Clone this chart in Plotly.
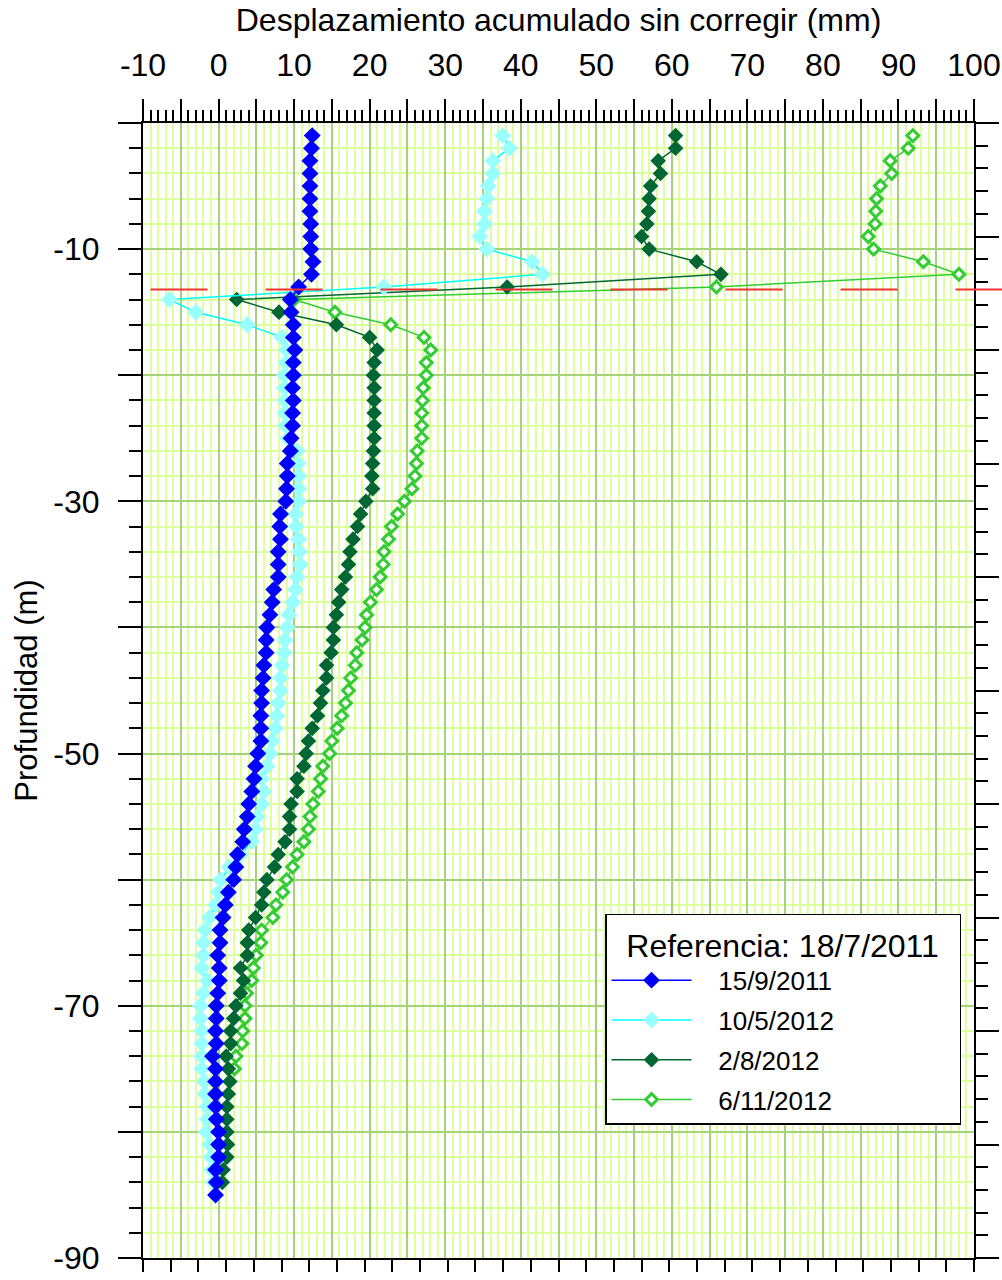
import plotly.graph_objects as go

# ---------------- data ----------------
DEPTH = [-1, -2, -3, -4, -5, -6, -7, -8, -9, -10,
         -11, -12, -13, -14, -15, -16, -17, -18, -19, -20,
         -21, -22, -23, -24, -25, -26, -27, -28, -29, -30,
         -31, -32, -33, -34, -35, -36, -37, -38, -39, -40,
         -41, -42, -43, -44, -45, -46, -47, -48, -49, -50,
         -51, -52, -53, -54, -55, -56, -57, -58, -59, -60,
         -61, -62, -63, -64, -65, -66, -67, -68, -69, -70,
         -71, -72, -73, -74, -75, -76, -77, -78, -79, -80,
         -81, -82, -83, -84, -85]

S_15_9_2011 = [12.4, 12.3, 12.1, 12.1, 12.1, 12.1, 12.1, 12.2, 12.2, 12.2,
               12.5, 12.3, 10.6, 9.5, 9.6, 9.9, 9.9, 10.1, 9.9, 9.9,
               9.8, 9.9, 9.8, 9.8, 9.6, 9.5, 9.1, 9.1, 9.0, 8.9,
               8.2, 8.1, 8.2, 7.9, 7.9, 7.9, 7.3, 7.1, 6.8, 6.4,
               6.3, 6.3, 6.0, 5.9, 5.7, 5.7, 5.6, 5.6, 5.6, 5.2,
               4.9, 4.7, 4.4, 4.0, 3.8, 3.4, 3.2, 2.5, 2.3, 2.0,
               1.3, 0.9, 0.6, 0.2, 0.2, -0.1, 0.1, 0.1, -0.1, -0.3,
               -0.3, -0.4, -0.3, -0.8, -0.4, -0.4, -0.4, -0.4, -0.3, 0.0,
               0.0, 0.0, -0.4, -0.3, -0.4]

S_10_5_2012 = [37.6, 38.5, 36.3, 36.3, 35.7, 35.5, 35.2, 35.2, 34.6, 35.5,
               41.5, 42.9, 21.9, -6.5, -3.0, 3.8, 8.4, 9.0, 8.9, 8.7,
               8.7, 8.8, 8.8, 8.9, 9.2, 10.4, 10.5, 10.6, 10.6, 10.6,
               10.2, 10.3, 10.6, 10.7, 10.8, 10.4, 10.2, 9.8, 9.3, 9.1,
               8.8, 8.7, 8.4, 8.2, 8.2, 7.9, 7.7, 7.5, 7.1, 6.8,
               6.4, 5.7, 6.0, 5.7, 5.1, 4.9, 4.4, 2.9, 1.4, 0.3,
               0.0, -0.4, -1.2, -1.8, -2.0, -2.0, -2.2, -1.5, -2.0, -2.4,
               -2.4, -2.2, -2.2, -2.2, -2.2, -1.9, -1.8, -1.5, -1.5, -1.6,
               -1.2, -1.0, -0.9, -0.7]

S_2_8_2012 = [60.5, 60.5, 58.2, 58.5, 57.2, 57.0, 56.9, 56.7, 56.0, 57.0,
              63.3, 66.5, 38.2, 2.4, 8.0, 15.6, 20.0, 21.0, 20.6, 20.5,
              20.6, 20.6, 20.6, 20.6, 20.6, 20.5, 20.4, 20.3, 20.4, 19.5,
              18.8, 18.4, 17.8, 17.4, 17.2, 16.8, 16.3, 15.9, 15.6, 15.2,
              15.2, 14.9, 14.3, 14.3, 13.8, 13.5, 13.1, 12.4, 11.9, 11.6,
              11.3, 10.4, 10.4, 9.6, 9.4, 9.4, 8.8, 7.9, 7.4, 6.4,
              6.0, 5.7, 4.9, 4.0, 3.8, 3.8, 2.9, 3.3, 2.9, 2.3,
              2.0, 1.6, 1.6, 1.0, 1.3, 1.5, 1.3, 1.1, 1.1, 1.1,
              1.2, 1.1, 0.6, 0.5]

S_6_11_2012 = [91.9, 91.3, 88.9, 89.1, 87.6, 87.1, 87.0, 86.9, 86.0, 86.7,
               93.3, 98.0, 65.9, 10.0, 15.4, 22.8, 27.2, 28.1, 27.5, 27.5,
               27.1, 27.0, 26.9, 26.9, 26.9, 26.3, 26.2, 26.0, 25.6, 24.6,
               23.7, 22.9, 22.5, 21.9, 21.8, 21.4, 20.9, 20.1, 19.6, 19.4,
               19.0, 18.3, 18.1, 17.5, 17.2, 16.8, 16.3, 15.7, 15.0, 14.7,
               13.8, 13.5, 13.2, 12.5, 12.1, 11.9, 11.3, 10.4, 9.8, 9.0,
               8.5, 7.6, 7.2, 5.7, 5.6, 5.0, 4.6, 4.4, 3.7, 3.5,
               3.5, 3.2, 3.1, 2.3, 2.1]

SERIES_NAMES = ["15/9/2011", "10/5/2012", "2/8/2012", "6/11/2012"]
LEGEND_TITLE = "Referencia: 18/7/2011"
X_TITLE = "Desplazamiento acumulado sin corregir (mm)"
Y_TITLE = "Profundidad (m)"

X_RANGE = [-10, 100]
Y_RANGE = [-90, 0]
X_TICKVALS = [-10, -5, 0, 5, 10, 15, 20, 25, 30, 35, 40, 45, 50, 55, 60, 65, 70, 75, 80, 85, 90, 95, 100]
X_TICKTEXT = ["-10", "", "0", "", "10", "", "20", "", "30", "", "40", "", "50", "", "60", "", "70", "", "80", "", "90", "", "100"]
Y_TICKVALS = [-90, -80, -70, -60, -50, -40, -30, -20, -10, 0]
Y_TICKTEXT = ["-90", "", "-70", "", "-50", "", "-30", "", "-10", ""]
RED_DEPTH = -13.2
RED_START = -9.0

# ---------------- styling ----------------
FONT = "Arial, Liberation Sans, sans-serif"
GRID_MAJOR = "#a6d27a"
GRID_MINOR = "#ddff9c"
NBSP = "\u00a0"

fig = go.Figure()

styles = {
    "6/11/2012": dict(line=dict(color="#33cc33", width=1.5),
                      marker=dict(symbol="diamond", size=9, color="white",
                                  line=dict(color="#33cc33", width=3))),
    "2/8/2012": dict(line=dict(color="#006633", width=1.5),
                     marker=dict(symbol="diamond", size=12, color="#006633",
                                 line=dict(width=0))),
    "10/5/2012": dict(line=dict(color="#00ffff", width=1.5),
                      marker=dict(symbol="diamond", size=13, color="#99ffff",
                                  line=dict(width=0))),
    "15/9/2011": dict(line=dict(color="#0000ff", width=1.5),
                      marker=dict(symbol="diamond", size=13, color="#0000ff",
                                  line=dict(width=0))),
}
data_map = {
    "15/9/2011": S_15_9_2011,
    "10/5/2012": S_10_5_2012,
    "2/8/2012": S_2_8_2012,
    "6/11/2012": S_6_11_2012,
}

# draw light green first so blue ends on top; legend ordered by rank
for name in reversed(SERIES_NAMES):
    vals = data_map[name]
    fig.add_trace(go.Scatter(
        x=vals, y=DEPTH[:len(vals)], mode="lines+markers",
        name=NBSP * 3 + name,
        legendgroup=name, legendrank=SERIES_NAMES.index(name) + 1,
        **styles[name]))

# secondary (unlabelled) axes on bottom and right
fig.add_trace(go.Scatter(x=[], y=[], xaxis="x2", yaxis="y2",
                         showlegend=False, hoverinfo="skip"))

ax_common = dict(showline=True, linecolor="black", linewidth=2, zeroline=False,
                 ticks="outside", tickcolor="black", tickwidth=1.8,
                 automargin=False)

fig.update_layout(
    width=1002, height=1280,
    margin=dict(l=143, r=28, t=123, b=22),
    paper_bgcolor="white", plot_bgcolor="white",
    font=dict(family=FONT, color="black", size=32),
    showlegend=True,
    xaxis=dict(
        side="top", range=X_RANGE, tickmode="array",
        tickvals=X_TICKVALS, ticktext=X_TICKTEXT, ticklen=22,
        tickfont=dict(size=32), ticklabelstandoff=10,
        showgrid=True, gridcolor=GRID_MAJOR, gridwidth=1.6,
        minor=dict(dtick=1, tick0=0, ticks="outside", ticklen=11,
                   tickcolor="black", tickwidth=1.5,
                   showgrid=True, gridcolor=GRID_MINOR, gridwidth=1.6),
        title=dict(text=X_TITLE, font=dict(size=32), standoff=6),
        **ax_common),
    yaxis=dict(
        range=Y_RANGE, tickmode="array",
        tickvals=Y_TICKVALS, ticktext=Y_TICKTEXT, ticklen=23,
        tickfont=dict(size=32), ticklabelstandoff=12,
        showgrid=True, gridcolor=GRID_MAJOR, gridwidth=1.6,
        minor=dict(dtick=2, tick0=0, ticks="outside", ticklen=12,
                   tickcolor="black", tickwidth=1.5,
                   showgrid=True, gridcolor=GRID_MINOR, gridwidth=1.6),
        title=dict(text=Y_TITLE, font=dict(size=31), standoff=6),
        **ax_common),
    xaxis2=dict(overlaying="x", side="bottom", anchor="y", range=[0, 30],
                tickmode="linear", tick0=0, dtick=1, ticklen=12,
                showticklabels=False, showgrid=False, **ax_common),
    yaxis2=dict(overlaying="y", side="right", anchor="x", range=[50, 0],
                tickmode="linear", tick0=0, dtick=5, ticklen=23,
                showticklabels=False, showgrid=False,
                minor=dict(dtick=1, tick0=0, ticks="outside", ticklen=12,
                           tickcolor="black", tickwidth=1.5, showgrid=False),
                **ax_common),
    legend=dict(
        x=0.556, y=0.3034, xanchor="left", yanchor="top",
        bgcolor="white", bordercolor="black", borderwidth=1.5,
        font=dict(size=26), traceorder="grouped",
        tracegroupgap=3, itemwidth=80,
        title=dict(text=NBSP * 2 + LEGEND_TITLE + NBSP * 2,
                   font=dict(size=32)),
    ),
)

# red dashed reference line (paper coords so it may run past the right axis)
def xpaper(v):
    return (v - X_RANGE[0]) / (X_RANGE[1] - X_RANGE[0])

def ypaper(v):
    return (v - Y_RANGE[0]) / (Y_RANGE[1] - Y_RANGE[0])

fig.add_shape(type="line", xref="paper", yref="paper",
              x0=xpaper(RED_START), x1=1.04,
              y0=ypaper(RED_DEPTH), y1=ypaper(RED_DEPTH),
              line=dict(color="#ee3333", width=2, dash="57px,58px"),
              layer="above")

fig.write_html("out.html",
               config={"displayModeBar": False},
               post_script="document.body.style.margin='0';"
                           "document.body.style.overflow='hidden';")
